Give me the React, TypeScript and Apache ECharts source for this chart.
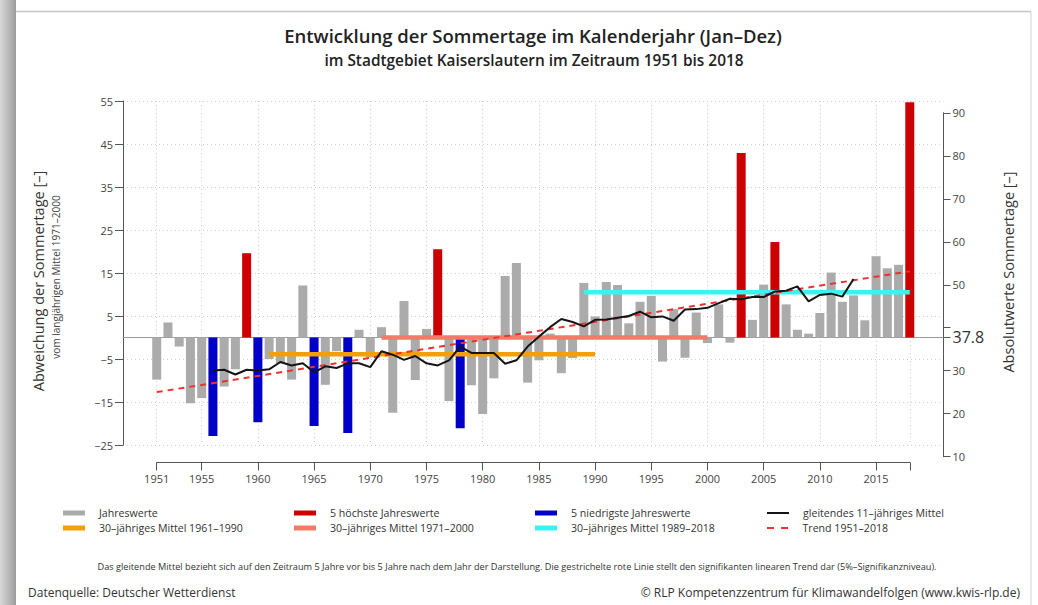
import React, { useEffect, useRef } from 'react';
import * as echarts from 'echarts';

// ---------- data ----------
const years = [
  1951, 1952, 1953, 1954, 1955, 1956, 1957, 1958, 1959, 1960,
  1961, 1962, 1963, 1964, 1965, 1966, 1967, 1968, 1969, 1970,
  1971, 1972, 1973, 1974, 1975, 1976, 1977, 1978, 1979, 1980,
  1981, 1982, 1983, 1984, 1985, 1986, 1987, 1988, 1989, 1990,
  1991, 1992, 1993, 1994, 1995, 1996, 1997, 1998, 1999, 2000,
  2001, 2002, 2003, 2004, 2005, 2006, 2007, 2008, 2009, 2010,
  2011, 2012, 2013, 2014, 2015, 2016, 2017, 2018,
];

// deviation from the 1971-2000 mean (37.8 days)
const deviation = [
  -9.8, 3.5, -2.1, -15.3, -14.1, -22.9, -11.4, -7.4, 19.6, -19.7,
  -5.0, -6.0, -9.8, 12.1, -20.6, -11.0, -3.2, -22.2, 1.8, -4.6,
  2.4, -17.5, 8.5, -9.9, 2.0, 20.5, -14.8, -21.1, -11.1, -17.8,
  -9.5, 14.3, 17.3, -10.5, -5.3, 0.9, -8.3, -4.8, 12.7, 4.9,
  12.9, 12.2, 3.3, 8.3, 9.7, -5.6, 6.6, -4.7, 5.8, -1.3,
  7.7, -1.2, 42.9, 4.1, 12.3, 22.2, 7.7, 1.8, 0.9, 5.7,
  15.1, 8.3, 9.8, 4.0, 18.9, 16.1, 16.9, 54.7,
];

const highestYears = [1959, 1976, 2003, 2006, 2018];
const lowestYears = [1956, 1960, 1965, 1968, 1978];

const movingAvgYears = [
  1956, 1957, 1958, 1959, 1960, 1961, 1962, 1963, 1964, 1965,
  1966, 1967, 1968, 1969, 1970, 1971, 1972, 1973, 1974, 1975,
  1976, 1977, 1978, 1979, 1980, 1981, 1982, 1983, 1984, 1985,
  1986, 1987, 1988, 1989, 1990, 1991, 1992, 1993, 1994, 1995,
  1996, 1997, 1998, 1999, 2000, 2001, 2002, 2003, 2004, 2005,
  2006, 2007, 2008, 2009, 2010, 2011, 2012, 2013,
];
const movingAvg = [
  -7.7, -7.5, -8.6, -7.5, -7.7, -7.4, -5.7, -6.5, -6.0, -8.1,
  -6.7, -7.1, -6.0, -6.0, -6.9, -3.2, -4.0, -5.2, -4.3, -6.0,
  -6.5, -5.3, -2.1, -3.6, -3.6, -3.6, -6.1, -5.3, -2.1, 0.2,
  2.4, 4.3, 3.6, 2.6, 4.1, 4.2, 4.6, 5.0, 6.0, 4.7,
  4.9, 3.9, 6.5, 6.6, 6.9, 8.0, 9.0, 8.9, 9.4, 9.4,
  10.7, 10.9, 11.9, 8.4, 9.9, 10.2, 9.5, 13.6,
];

const mean1961to1990 = [[1961, -3.9], [1990, -3.9]];
const mean1971to2000 = [[1971, 0], [2000, 0]];
const mean1989to2018 = [[1989, 10.5], [2018, 10.5]];
const trend = [[1951, -12.7], [2018, 15.4]];

const referenceMean = 37.8;
const leftTicks = [-25, -15, -5, 5, 15, 25, 35, 45, 55];
const rightTicks = [10, 20, 30, 37.8, 40, 50, 60, 70, 80, 90];
const rightLabels = [10, 20, 30, 37.8, 50, 60, 70, 80, 90];
const xTicks = [1951, 1955, 1960, 1965, 1970, 1975, 1980, 1985, 1990, 1995, 2000, 2005, 2010, 2015, 2018];
const xLabels = [1951, 1955, 1960, 1965, 1970, 1975, 1980, 1985, 1990, 1995, 2000, 2005, 2010, 2015];

// ---------- styles ----------
const FONT = "'Open Sans', 'Noto Sans', sans-serif";
const C_GRAY = '#ababab';
const C_RED = '#cc0000';
const C_BLUE = '#0000c8';
const C_ORANGE = '#f2a007';
const C_SALMON = '#f47a68';
const C_CYAN = '#36f4f4';
const C_BLACK = '#151515';
const C_TREND = '#f03030';
const AXIS = '#555';

const minus = (v: number) => String(v).replace('-', '\u2212');

export default function App() {
  const ref = useRef<HTMLDivElement>(null);

  useEffect(() => {
    if (!ref.current) return;
    const chart = echarts.init(ref.current, undefined, { renderer: 'svg' });

    const normal = years.map((y, i) =>
      highestYears.includes(y) || lowestYears.includes(y) ? [y, '-'] : [y, deviation[i]]
    );
    const high = years.map((y, i) => (highestYears.includes(y) ? [y, deviation[i]] : [y, '-']));
    const low = years.map((y, i) => (lowestYears.includes(y) ? [y, deviation[i]] : [y, '-']));
    const avg = movingAvgYears.map((y, i) => [y, movingAvg[i]]);

    const barBase = {
      type: 'bar',
      xAxisIndex: 0,
      yAxisIndex: 0,
      barWidth: 9,
      barGap: '-100%',
      z: 2,
    };
    const lineBase = {
      type: 'line',
      xAxisIndex: 0,
      yAxisIndex: 0,
      symbol: 'none',
      silent: true,
      z: 4,
    };

    const LEG_TOP = 502;
    const legendCommon = {
      orient: 'vertical',
      top: LEG_TOP,
      itemWidth: 22,
      itemHeight: 5,
      itemGap: 3,
      selectedMode: false,
      textStyle: { fontFamily: FONT, fontSize: 10.6, color: '#333', lineHeight: 12, padding: [0, 0, 0, 9] },
    };

    const option: any = {
      animation: false,
      backgroundColor: '#ffffff',
      textStyle: { fontFamily: FONT },
      grid: [
        { left: 123, right: 94.5, top: 101, height: 344 },
        { left: 123, right: 94.5, top: 112.8, height: 343.9 },
        { left: 156.7, right: 128.2, top: 461.5, height: 1 },
      ],
      xAxis: [
        {
          gridIndex: 0,
          type: 'value',
          min: 1948,
          max: 2021,
          axisLine: { show: true, onZero: true, lineStyle: { color: '#9a9a9a', width: 1 } },
          axisTick: { show: false, customValues: xTicks },
          axisLabel: { show: false, customValues: xTicks },
          splitLine: { show: true, lineStyle: { color: '#cfcfcf', type: [1, 3], width: 1 } },
        },
        { gridIndex: 1, type: 'value', min: 1948, max: 2021, show: false },
        {
          gridIndex: 2,
          type: 'value',
          min: 1951,
          max: 2018,
          position: 'bottom',
          axisLine: { show: true, onZero: false, lineStyle: { color: AXIS, width: 1 } },
          axisTick: { show: true, length: 8, customValues: xTicks, lineStyle: { color: AXIS } },
          axisLabel: {
            customValues: xLabels,
            fontSize: 11,
            color: '#444',
            margin: 10,
            fontFamily: FONT,
            formatter: (v: number) => String(v),
          },
          splitLine: { show: false },
        },
      ],
      yAxis: [
        {
          gridIndex: 0,
          type: 'value',
          min: -25,
          max: 55,
          axisLine: { show: true, lineStyle: { color: AXIS, width: 1 } },
          axisTick: { show: true, length: 8, customValues: leftTicks, lineStyle: { color: AXIS } },
          axisLabel: {
            customValues: leftTicks,
            fontSize: 11,
            color: '#444',
            margin: 10,
            fontFamily: FONT,
            formatter: (v: number) => minus(v),
          },
          splitLine: { show: true, lineStyle: { color: '#cfcfcf', type: [1, 3], width: 1 } },
        },
        {
          gridIndex: 1,
          type: 'value',
          position: 'right',
          min: 10,
          max: 90,
          axisLine: { show: true, lineStyle: { color: AXIS, width: 1 } },
          axisTick: { show: true, length: 7, customValues: rightTicks, lineStyle: { color: AXIS } },
          axisLabel: {
            customValues: rightLabels,
            fontSize: 11,
            color: '#444',
            margin: 9,
            fontFamily: FONT,
            formatter: (v: number) => (v === referenceMean ? '{big|' + v + '}' : String(v)),
            rich: { big: { fontSize: 16, color: '#333', fontFamily: FONT } },
          },
          splitLine: { show: false },
        },
        { gridIndex: 2, type: 'value', show: false },
      ],
      legend: [
        {
          ...legendCommon,
          left: 58,
          data: [
            { name: 'Jahreswerte', icon: 'rect' },
            { name: '30–jähriges Mittel 1961–1990', icon: 'rect' },
          ],
        },
        {
          ...legendCommon,
          left: 289,
          data: [
            { name: '5 höchste Jahreswerte', icon: 'rect' },
            { name: '30–jähriges Mittel 1971–2000', icon: 'rect' },
          ],
        },
        {
          ...legendCommon,
          left: 530,
          data: [
            { name: '5 niedrigste Jahreswerte', icon: 'rect' },
            { name: '30–jähriges Mittel 1989–2018', icon: 'rect' },
          ],
        },
        {
          ...legendCommon,
          left: 762,
          itemHeight: 2,
          data: [{ name: 'gleitendes 11–jähriges Mittel', icon: 'rect' }],
        },
        {
          ...legendCommon,
          left: 762,
          top: LEG_TOP + 15,
          itemHeight: 2,
          data: [{ name: 'Trend 1951–2018', icon: 'path://M0,0H7V2H0Z M14,0H21V2H14Z' }],
        },
      ],
      series: [
        { ...barBase, name: 'Jahreswerte', data: normal, itemStyle: { color: C_GRAY } },
        { ...barBase, name: '5 höchste Jahreswerte', data: high, itemStyle: { color: C_RED } },
        { ...barBase, name: '5 niedrigste Jahreswerte', data: low, itemStyle: { color: C_BLUE } },
        {
          ...lineBase,
          name: '30–jähriges Mittel 1961–1990',
          data: mean1961to1990,
          itemStyle: { color: C_ORANGE },
          lineStyle: { color: C_ORANGE, width: 4.5 },
        },
        {
          ...lineBase,
          name: '30–jähriges Mittel 1971–2000',
          data: mean1971to2000,
          itemStyle: { color: C_SALMON },
          lineStyle: { color: C_SALMON, width: 4.5 },
        },
        {
          ...lineBase,
          name: '30–jähriges Mittel 1989–2018',
          data: mean1989to2018,
          itemStyle: { color: C_CYAN },
          lineStyle: { color: C_CYAN, width: 4.5 },
        },
        {
          ...lineBase,
          name: 'Trend 1951–2018',
          data: trend,
          itemStyle: { color: C_TREND },
          lineStyle: { color: C_TREND, width: 2, type: [6, 5] },
          z: 5,
        },
        {
          ...lineBase,
          name: 'gleitendes 11–jähriges Mittel',
          data: avg,
          itemStyle: { color: C_BLACK },
          lineStyle: { color: C_BLACK, width: 2 },
          z: 6,
        },
      ],
      graphic: [
        {
          type: 'rect',
          left: 0,
          top: 0,
          shape: { x: 0, y: 0, width: 16, height: 605 },
          style: {
            fill: {
              type: 'linear', x: 0, y: 0, x2: 1, y2: 0,
              colorStops: [
                { offset: 0, color: '#d8d8d8' },
                { offset: 0.7, color: '#b0b0b0' },
                { offset: 1, color: '#9a9a9a' },
              ],
            },
          },
          silent: true,
          z: -10,
        },
        {
          type: 'line',
          shape: { x1: 16, y1: 11.5, x2: 1031, y2: 11.5 },
          style: { stroke: '#c4c4c4', lineWidth: 1.5 },
          silent: true,
        },
        {
          type: 'line',
          shape: { x1: 1031, y1: 11.5, x2: 1031, y2: 605 },
          style: { stroke: '#d4d4d4', lineWidth: 1 },
          silent: true,
        },
        {
          type: 'text',
          x: 533,
          y: 35,
          style: {
            text: 'Entwicklung der Sommertage im Kalenderjahr (Jan–Dez)',
            font: `600 18.5px ${FONT}`,
            fill: '#222',
            textAlign: 'center',
            textVerticalAlign: 'middle',
          },
        },
        {
          type: 'text',
          x: 534,
          y: 60,
          style: {
            text: 'im Stadtgebiet Kaiserslautern im Zeitraum 1951 bis 2018',
            font: `600 15.4px ${FONT}`,
            fill: '#222',
            textAlign: 'center',
            textVerticalAlign: 'middle',
          },
        },
        {
          type: 'text',
          x: 38,
          y: 281,
          rotation: Math.PI / 2,
          style: {
            text: 'Abweichung der Sommertage [–]',
            font: `14.5px ${FONT}`,
            fill: '#333',
            textAlign: 'center',
            textVerticalAlign: 'middle',
          },
        },
        {
          type: 'text',
          x: 56,
          y: 277,
          rotation: Math.PI / 2,
          style: {
            text: 'vom langjährigen Mittel 1971–2000',
            font: `10px ${FONT}`,
            fill: '#444',
            textAlign: 'center',
            textVerticalAlign: 'middle',
          },
        },
        {
          type: 'text',
          x: 1008,
          y: 272,
          rotation: Math.PI / 2,
          style: {
            text: 'Absolutwerte Sommertage [–]',
            font: `14.5px ${FONT}`,
            fill: '#333',
            textAlign: 'center',
            textVerticalAlign: 'middle',
          },
        },
        {
          type: 'text',
          x: 517,
          y: 566,
          style: {
            text:
              'Das gleitende Mittel bezieht sich auf den Zeitraum 5 Jahre vor bis 5 Jahre nach dem Jahr der Darstellung. Die gestrichelte rote Linie stellt den signifikanten linearen Trend dar (5%–Signifikanzniveau).',
            font: `9.2px ${FONT}`,
            fill: '#333',
            textAlign: 'center',
            textVerticalAlign: 'middle',
          },
        },
        {
          type: 'text',
          x: 28,
          y: 592,
          style: {
            text: 'Datenquelle: Deutscher Wetterdienst',
            font: `12px ${FONT}`,
            fill: '#333',
            textAlign: 'left',
            textVerticalAlign: 'middle',
          },
        },
        {
          type: 'text',
          x: 1020,
          y: 592,
          style: {
            text: '© RLP Kompetenzzentrum für Klimawandelfolgen (www.kwis-rlp.de)',
            font: `12px ${FONT}`,
            fill: '#333',
            textAlign: 'right',
            textVerticalAlign: 'middle',
          },
        },
      ],
    };

    chart.setOption(option);
    return () => chart.dispose();
  }, []);

  return (
    <div
      ref={ref}
      style={{ position: 'fixed', left: 0, top: 0, width: 1038, height: 605, background: '#fff' }}
    />
  );
}
